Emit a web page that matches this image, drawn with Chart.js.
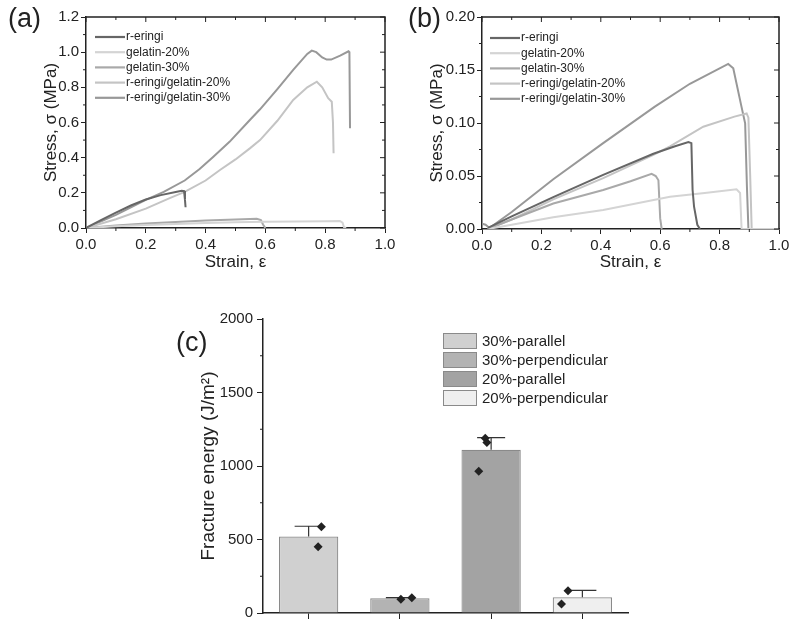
<!DOCTYPE html>
<html>
<head>
<meta charset="utf-8">
<script src="https://cdn.jsdelivr.net/npm/chart.js@4.4.1/dist/chart.umd.min.js"></script>
<style>
  body { margin: 0; background: #fff; }
  #wrap { position: relative; width: 800px; height: 631px; background: #fff; overflow: hidden; }
  canvas { position: absolute; }
  .tag { position: absolute; font: 27px 'Liberation Sans', Arial, sans-serif; color: #222; line-height: 32px; }
</style>
</head>
<body>
<div id="wrap">
  <canvas id="chartA" width="400" height="290" style="left:0;top:0"></canvas>
  <canvas id="chartB" width="400" height="290" style="left:400px;top:0"></canvas>
  <canvas id="chartC" width="530" height="341" style="left:150px;top:290px"></canvas>
  <div class="tag" style="left:8px;top:2px">(a)</div>
  <div class="tag" style="left:408px;top:2px">(b)</div>
  <div class="tag" style="left:176px;top:326px">(c)</div>
</div>
<script>
const seriesNames = ['r-eringi', 'gelatin-20%', 'gelatin-30%', 'r-eringi/gelatin-20%', 'r-eringi/gelatin-30%'];
const seriesColors = ['#666666', '#d4d4d4', '#a9a9a9', '#c4c4c4', '#989898'];

// panel (a)
const aStrain0 = [0, 0.05, 0.1, 0.15, 0.2, 0.25, 0.3, 0.32, 0.328, 0.331, 0.333];
const aStress0 = [0, 0.045, 0.088, 0.128, 0.162, 0.187, 0.205, 0.212, 0.21, 0.16, 0.118];
const aStrain1 = [0, 0.1, 0.2, 0.3, 0.4, 0.5, 0.6, 0.7, 0.8, 0.849, 0.858, 0.863, 0.87];
const aStress1 = [0, 0.01, 0.017, 0.023, 0.028, 0.032, 0.035, 0.037, 0.039, 0.04, 0.03, 0.004, 0];
const aStrain2 = [0, 0.1, 0.2, 0.3, 0.4, 0.5, 0.571, 0.585, 0.592, 0.6];
const aStress2 = [0, 0.014, 0.025, 0.034, 0.042, 0.048, 0.052, 0.045, 0.02, 0];
const aStrain3 = [0, 0.1, 0.2, 0.28, 0.33, 0.4, 0.448, 0.5, 0.548, 0.582, 0.64, 0.693, 0.74, 0.772, 0.79, 0.81, 0.822, 0.826, 0.828];
const aStress3 = [0, 0.05, 0.11, 0.17, 0.205, 0.27, 0.33, 0.39, 0.453, 0.5, 0.61, 0.728, 0.8, 0.832, 0.8, 0.738, 0.718, 0.6, 0.425];
const aStrain4 = [0, 0.1, 0.2, 0.26, 0.33, 0.38, 0.426, 0.48, 0.548, 0.582, 0.64, 0.693, 0.74, 0.755, 0.77, 0.79, 0.805, 0.82, 0.85, 0.878, 0.881, 0.883];
const aStress4 = [0, 0.075, 0.16, 0.205, 0.27, 0.335, 0.405, 0.49, 0.614, 0.675, 0.79, 0.899, 0.99, 1.009, 1.0, 0.97, 0.958, 0.958, 0.98, 1.005, 1.0, 0.567];

// panel (b)
const bStrain0 = [0.02, 0.1, 0.24, 0.408, 0.577, 0.65, 0.695, 0.705, 0.709, 0.714, 0.725, 0.734];
const bStress0 = [0.001, 0.012, 0.03, 0.051, 0.071, 0.078, 0.082, 0.081, 0.037, 0.021, 0.004, 0];
const bStrain1 = [0.02, 0.1, 0.24, 0.408, 0.633, 0.75, 0.857, 0.869, 0.874, 1.0];
const bStress1 = [0, 0.004, 0.011, 0.018, 0.0305, 0.034, 0.0374, 0.034, 0, 0];
const bStrain2 = [0.02, 0.1, 0.24, 0.408, 0.5, 0.571, 0.585, 0.594, 0.6, 0.605];
const bStress2 = [0, 0.009, 0.024, 0.0368, 0.045, 0.052, 0.05, 0.046, 0.01, 0];
const bStrain3 = [0.02, 0.1, 0.24, 0.408, 0.577, 0.633, 0.745, 0.85, 0.891, 0.897, 0.903, 0.908, 1.0];
const bStress3 = [0, 0.009, 0.028, 0.048, 0.07, 0.078, 0.0965, 0.106, 0.109, 0.105, 0.05, 0, 0];
const bStrain4 = [0, 0.012, 0.025, 0.1, 0.24, 0.408, 0.582, 0.7, 0.829, 0.846, 0.874, 0.886, 0.892, 0.897];
const bStress4 = [0.005, 0.004, 0.001, 0.016, 0.047, 0.081, 0.1154, 0.137, 0.1557, 0.1516, 0.115, 0.0997, 0.04, 0];

// panel (c)
const cLabels = ['30%-parallel', '30%-perpendicular', '20%-parallel', '20%-perpendicular'];
const cMean = [520, 100, 1110, 107];
const cUpper = [590, 104, 1193, 154];
const cColors = ['#d0d0d0', '#b3b3b3', '#a3a3a3', '#efefef'];
const cPointX = [-0.03, -0.07, -0.05, 0.085, -0.09, -0.01, 0.01, -0.07, 0.01];
const cPointGroup = [0, 0, 1, 1, 2, 2, 2, 3, 3];
const cPointY = [587, 451, 93, 104, 964, 1188, 1160, 61, 152];

const FONT = "'Liberation Sans', Arial, sans-serif";
const INK = '#222';

function pairs(xs, ys) { return xs.map((x, i) => ({ x: x, y: ys[i] })); }

// minor ticks on left/bottom, mirrored ticks + frame on top/right
const frameTicks = {
  id: 'frameTicks',
  afterDraw(chart, args, opts) {
    const { ctx, chartArea: a, scales: { x, y } } = chart;
    ctx.save();
    ctx.strokeStyle = INK;
    ctx.lineWidth = 1.5;
    ctx.beginPath();
    ctx.moveTo(a.left, a.top); ctx.lineTo(a.right, a.top); ctx.lineTo(a.right, a.bottom);
    ctx.stroke();
    ctx.lineWidth = 1;
    ctx.beginPath();
    const nx = Math.round((x.max - x.min) / opts.xMinor);
    for (let i = 0; i <= nx; i++) {
      const px = x.getPixelForValue(x.min + i * opts.xMinor);
      const len = i % 2 === 0 ? 5 : 3;
      ctx.moveTo(px, a.top); ctx.lineTo(px, a.top + len);
      if (i % 2) { ctx.moveTo(px, a.bottom); ctx.lineTo(px, a.bottom + 3); }
    }
    const ny = Math.round((y.max - y.min) / opts.yMinor);
    for (let i = 0; i <= ny; i++) {
      const py = y.getPixelForValue(y.min + i * opts.yMinor);
      const len = i % 2 === 0 ? 5 : 3;
      ctx.moveTo(a.right, py); ctx.lineTo(a.right - len, py);
      if (i % 2) { ctx.moveTo(a.left, py); ctx.lineTo(a.left - 3, py); }
    }
    ctx.stroke();
    ctx.restore();
  }
};

// legend with line samples inside the plot
const lineLegend = {
  id: 'lineLegend',
  afterDraw(chart, args, opts) {
    const ctx = chart.ctx;
    ctx.save();
    ctx.font = '12px ' + FONT;
    ctx.textBaseline = 'middle';
    chart.data.datasets.forEach((ds, i) => {
      const yy = opts.y + i * opts.dy;
      ctx.strokeStyle = ds.borderColor;
      ctx.lineWidth = 2.2;
      ctx.beginPath(); ctx.moveTo(opts.x, yy); ctx.lineTo(opts.x + 30, yy); ctx.stroke();
      ctx.fillStyle = INK;
      ctx.fillText(ds.label, opts.x + 31, yy);
    });
    ctx.restore();
  }
};

function curveChart(id, strains, stresses, cfg) {
  const datasets = seriesNames.map((name, i) => ({
    label: name,
    data: pairs(strains[i], stresses[i]),
    borderColor: seriesColors[i],
    borderWidth: 2,
    pointRadius: 0,
    showLine: true,
    tension: 0
  }));
  return new Chart(document.getElementById(id), {
    type: 'scatter',
    data: { datasets: datasets },
    plugins: [frameTicks, lineLegend],
    options: {
      responsive: false,
      animation: false,
      layout: { padding: { top: 17, right: cfg.right, left: 0, bottom: 0 } },
      plugins: {
        legend: { display: false },
        tooltip: { enabled: false },
        frameTicks: { xMinor: 0.1, yMinor: cfg.yStep / 2 },
        lineLegend: cfg.legend
      },
      scales: {
        x: {
          type: 'linear', min: 0, max: 1,
          afterFit: (s) => { s.height = cfg.xh; },
          border: { color: INK, width: 1.5 },
          grid: { drawOnChartArea: false, tickLength: 5, tickColor: INK },
          ticks: { stepSize: 0.2, padding: 3, color: INK, font: { family: FONT, size: 15 }, maxRotation: 0,
                   callback: (v) => v.toFixed(1) },
          title: { display: true, text: 'Strain, ε', color: INK, font: { family: FONT, size: 17 },
                   padding: { top: 0, bottom: 17 } }
        },
        y: {
          type: 'linear', min: 0, max: cfg.yMax,
          afterFit: (s) => { s.width = cfg.yw; },
          border: { color: INK, width: 1.5 },
          grid: { drawOnChartArea: false, tickLength: 5, tickColor: INK },
          ticks: { stepSize: cfg.yStep, padding: 2, color: INK, font: { family: FONT, size: 15 },
                   callback: (v) => v.toFixed(cfg.dec) },
          title: { display: true, text: 'Stress, σ (MPa)', color: INK, font: { family: FONT, size: 17 },
                   padding: { top: cfg.ytPad, bottom: 0 } }
        }
      }
    }
  });
}

curveChart('chartA',
  [aStrain0, aStrain1, aStrain2, aStrain3, aStrain4],
  [aStress0, aStress1, aStress2, aStress3, aStress4],
  { right: 15, xh: 62, yw: 86, yMax: 1.2, yStep: 0.2, dec: 1, ytPad: 41,
    legend: { x: 95, y: 37, dy: 15.2 } });

curveChart('chartB',
  [bStrain0, bStrain1, bStrain2, bStrain3, bStrain4],
  [bStress0, bStress1, bStress2, bStress3, bStress4],
  { right: 21, xh: 61, yw: 82, yMax: 0.2, yStep: 0.05, dec: 2, ytPad: 27,
    legend: { x: 90, y: 38, dy: 15.2 } });

// panel (c) helpers
const errorBars = {
  id: 'errorBars',
  afterDatasetDraw(chart, args) {
    if (args.index !== 0) return;
    const { ctx, scales: { x, y } } = chart;
    ctx.save();
    ctx.strokeStyle = '#333';
    ctx.lineWidth = 1.2;
    ctx.beginPath();
    cMean.forEach((m, i) => {
      const px = x.getPixelForValue(i);
      const y0 = y.getPixelForValue(m);
      const y1 = y.getPixelForValue(cUpper[i]);
      ctx.moveTo(px, y0); ctx.lineTo(px, y1);
      ctx.moveTo(px - 14, y1); ctx.lineTo(px + 14, y1);
    });
    ctx.stroke();
    ctx.restore();
  }
};

const boxLegend = {
  id: 'boxLegend',
  afterDraw(chart) {
    const ctx = chart.ctx;
    ctx.save();
    ctx.font = '15px ' + FONT;
    ctx.textBaseline = 'middle';
    chart.data.labels.forEach((lab, i) => {
      const yy = 43 + i * 19;
      ctx.fillStyle = cColors[i];
      ctx.fillRect(293, yy, 34, 16);
      ctx.strokeStyle = '#8a8a8a';
      ctx.lineWidth = 1;
      ctx.strokeRect(293.5, yy + 0.5, 33, 15);
      ctx.fillStyle = INK;
      ctx.fillText(lab, 332, yy + 8.5);
    });
    ctx.restore();
  }
};

const yMinorC = {
  id: 'yMinorC',
  afterDraw(chart) {
    const { ctx, chartArea: a, scales: { y } } = chart;
    ctx.save();
    ctx.strokeStyle = INK;
    ctx.lineWidth = 1;
    ctx.beginPath();
    for (let v = 250; v < 2000; v += 500) {
      const py = y.getPixelForValue(v);
      ctx.moveTo(a.left, py); ctx.lineTo(a.left - 3, py);
    }
    ctx.stroke();
    ctx.restore();
  }
};

new Chart(document.getElementById('chartC'), {
  type: 'bar',
  data: {
    labels: cLabels,
    datasets: [
      {
        data: cMean,
        backgroundColor: cColors,
        borderColor: '#8a8a8a',
        borderWidth: 1.2,
        grouped: false,
        barPercentage: 0.65,
        categoryPercentage: 1,
        order: 2
      },
      {
        type: 'scatter',
        xAxisID: 'xj',
        data: cPointY.map((v, i) => ({ x: cPointGroup[i] + cPointX[i], y: v })),
        pointStyle: 'rectRot',
        pointRadius: 4.5,
        backgroundColor: '#222',
        borderColor: '#222',
        borderWidth: 0,
        showLine: false,
        order: 1
      }
    ]
  },
  plugins: [errorBars, boxLegend, yMinorC],
  options: {
    responsive: false,
    animation: false,
    layout: { padding: { top: 29, right: 52, left: 0, bottom: 0 } },
    plugins: { legend: { display: false }, tooltip: { enabled: false } },
    scales: {
      x: {
        type: 'category',
        afterFit: (s) => { s.height = 18; },
        border: { color: INK, width: 1.5 },
        grid: { drawOnChartArea: false, offset: false, tickLength: 6, tickColor: INK },
        ticks: { display: false }
      },
      xj: { type: 'linear', display: false, min: -0.5, max: 3.5 },
      y: {
        min: 0, max: 2000,
        afterFit: (s) => { s.width = 113; },
        border: { color: INK, width: 1.5 },
        grid: { drawOnChartArea: false, tickLength: 6, tickColor: INK },
        ticks: { stepSize: 500, padding: 4, color: INK, font: { family: FONT, size: 15 },
                 callback: (v) => String(v) },
        title: { display: true, text: 'Fracture energy (J/m²)', color: INK, font: { family: FONT, size: 19 },
                 padding: { top: 47, bottom: 0 } }
      }
    }
  }
});
</script>
</body>
</html>
